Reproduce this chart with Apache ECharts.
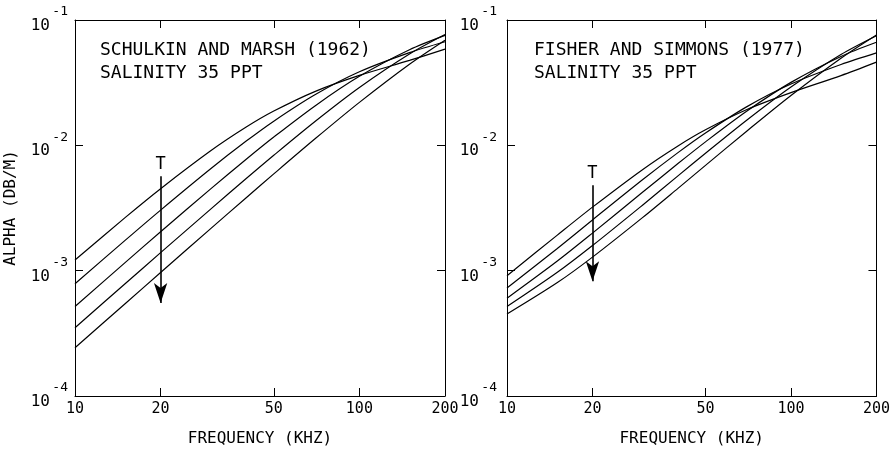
<!DOCTYPE html>
<html><head><meta charset="utf-8">
<script src="https://cdn.jsdelivr.net/npm/echarts@6/dist/echarts.min.js"></script>
<style>html,body{margin:0;padding:0;background:#fff}#c{width:893px;height:452px}</style>
</head><body><div id="c"></div>
<script>
// Frequency points (kHz)
const frequencies = [10, 15, 20, 30, 40, 50, 70, 100, 150, 200];

// Left panel: Schulkin and Marsh (1962), alpha in dB/m, five temperature curves
const schulkin1 = [1.216e-3, 2.648e-3, 4.506e-3, 9.040e-3, 1.398e-2, 1.876e-2, 2.697e-2, 3.613e-2, 4.758e-2, 5.853e-2];
const schulkin2 = [7.856e-4, 1.744e-3, 3.043e-3, 6.504e-3, 1.081e-2, 1.560e-2, 2.544e-2, 3.861e-2, 5.489e-2, 6.703e-2];
const schulkin3 = [5.181e-4, 1.159e-3, 2.044e-3, 4.494e-3, 7.743e-3, 1.164e-2, 2.073e-2, 3.551e-2, 5.788e-2, 7.540e-2];
const schulkin4 = [3.504e-4, 7.862e-4, 1.392e-3, 3.100e-3, 5.430e-3, 8.329e-3, 1.556e-2, 2.892e-2, 5.350e-2, 7.656e-2];
const schulkin5 = [2.424e-4, 5.448e-4, 9.668e-4, 2.164e-3, 3.820e-3, 5.915e-3, 1.132e-2, 2.201e-2, 4.439e-2, 6.905e-2];

// Right panel: Fisher and Simmons (1977)
const fisher1 = [9.121e-4, 1.913e-3, 3.213e-3, 6.398e-3, 9.891e-3, 1.331e-2, 1.930e-2, 2.634e-2, 3.603e-2, 4.610e-2];
const fisher2 = [7.275e-4, 1.497e-3, 2.539e-3, 5.310e-3, 8.746e-3, 1.255e-2, 2.037e-2, 3.084e-2, 4.412e-2, 5.463e-2];
const fisher3 = [6.023e-4, 1.187e-3, 1.993e-3, 4.217e-3, 7.156e-3, 1.066e-2, 1.878e-2, 3.179e-2, 5.119e-2, 6.638e-2];
const fisher4 = [5.170e-4, 9.650e-4, 1.586e-3, 3.330e-3, 5.703e-3, 8.644e-3, 1.593e-2, 2.920e-2, 5.307e-2, 7.494e-2];
const fisher5 = [4.506e-4, 7.992e-4, 1.282e-3, 2.649e-3, 4.535e-3, 6.915e-3, 1.303e-2, 2.500e-2, 4.960e-2, 7.604e-2];

// Temperature arrows (frequency, alpha at top, alpha at tip)
const arrowLeft = [20, 5.66e-3, 5.52e-4];
const arrowRight = [20, 4.81e-3, 8.24e-4];

// Tick values / labels
const xLabelValues = [10, 20, 50, 100, 200];
const xTickValues = [20, 50, 100];
const panelText = ['SCHULKIN AND MARSH (1962)\nSALINITY 35 PPT', 'FISHER AND SIMMONS (1977)\nSALINITY 35 PPT'];
const xAxisTitle = 'FREQUENCY (KHZ)';
const yAxisTitle = 'ALPHA (DB/M)';

const FONT = 'DejaVu Sans Mono';
const chart = echarts.init(document.getElementById('c'), null, {renderer: 'canvas'});

const grids = [
  {left: 75, top: 20, width: 370, height: 380},
  {left: 507, top: 20, width: 370, height: 380}
];

function xAxesFor(gi) {
  const common = {
    type: 'log', logBase: 10, gridIndex: gi, min: 10, max: 200,
    axisLine: {show: true, lineStyle: {color: '#000', width: 1}},
    axisTick: {show: true, inside: true, length: 8, customValues: xTickValues, lineStyle: {color: '#000', width: 1}},
    splitLine: {show: false}, minorTick: {show: false}, minorSplitLine: {show: false}
  };
  return [
    Object.assign({}, common, {
      position: 'bottom',
      axisLabel: {show: true, customValues: xLabelValues, color: '#000', fontFamily: FONT, fontSize: 15, margin: 6,
        formatter: v => String(Math.round(v))},
      name: xAxisTitle, nameLocation: 'middle', nameGap: 35,
      nameTextStyle: {color: '#000', fontFamily: FONT, fontSize: 16}
    }),
    Object.assign({}, common, {position: 'top', axisLabel: {show: false}})
  ];
}

function yAxesFor(gi, withName, margin) {
  const common = {
    type: 'log', logBase: 10, gridIndex: gi, min: 1e-4, max: 1e-1,
    axisLine: {show: true, lineStyle: {color: '#000', width: 1}},
    axisTick: {show: true, inside: true, length: 8, lineStyle: {color: '#000', width: 1}},
    splitLine: {show: false}, minorTick: {show: false}, minorSplitLine: {show: false}
  };
  const left = Object.assign({}, common, {
    position: 'left',
    axisLabel: {
      show: true, margin: margin, color: '#000',
      formatter: v => '{s|' + Math.round(Math.log10(v)) + '}\n{b|10}',
      rich: {
        s: {fontFamily: FONT, fontSize: 13, lineHeight: 12, color: '#000'},
        b: {fontFamily: FONT, fontSize: 16, lineHeight: 16, padding: [0, 18, 0, 0], color: '#000'}
      }
    }
  });
  if (withName) {
    Object.assign(left, {name: yAxisTitle, nameLocation: 'middle', nameGap: 56, nameRotate: 90,
      nameTextStyle: {color: '#000', fontFamily: FONT, fontSize: 16}});
  }
  const right = Object.assign({}, common, {position: 'right', axisLabel: {show: false}});
  return [left, right];
}

function lineSeries(arr, xi, yi) {
  return {
    type: 'line', xAxisIndex: xi, yAxisIndex: yi, smooth: 0.3, showSymbol: false, symbol: 'none',
    silent: true, animation: false,
    lineStyle: {color: '#000', width: 1.2},
    data: frequencies.map((f, i) => [f, arr[i]])
  };
}

function arrowMark(a) {
  return {
    silent: true, animation: false,
    symbol: ['none', 'arrow'], symbolSize: [10, 20],
    lineStyle: {color: '#000', width: 1.6, type: 'solid'},
    label: {show: true, position: 'start', formatter: 'T', color: '#000', fontFamily: FONT, fontSize: 17, distance: 3},
    data: [[{coord: [a[0], a[1]]}, {coord: [a[0], a[2]]}]]
  };
}

const leftSeries = [schulkin1, schulkin2, schulkin3, schulkin4, schulkin5].map(a => lineSeries(a, 0, 0));
const rightSeries = [fisher1, fisher2, fisher3, fisher4, fisher5].map(a => lineSeries(a, 2, 2));
leftSeries[0].markLine = arrowMark(arrowLeft);
rightSeries[0].markLine = arrowMark(arrowRight);

chart.setOption({
  backgroundColor: '#fff',
  animation: false,
  grid: grids,
  xAxis: xAxesFor(0).concat(xAxesFor(1)),
  yAxis: yAxesFor(0, true, 7).concat(yAxesFor(1, false, 10)),
  series: leftSeries.concat(rightSeries),
  graphic: [
    {type: 'text', left: 100, top: 39, silent: true,
      style: {text: panelText[0], fontFamily: FONT, fontSize: 18, lineHeight: 23, fill: '#000'}},
    {type: 'text', left: 534, top: 39, silent: true,
      style: {text: panelText[1], fontFamily: FONT, fontSize: 18, lineHeight: 23, fill: '#000'}}
  ]
});
</script></body></html>
